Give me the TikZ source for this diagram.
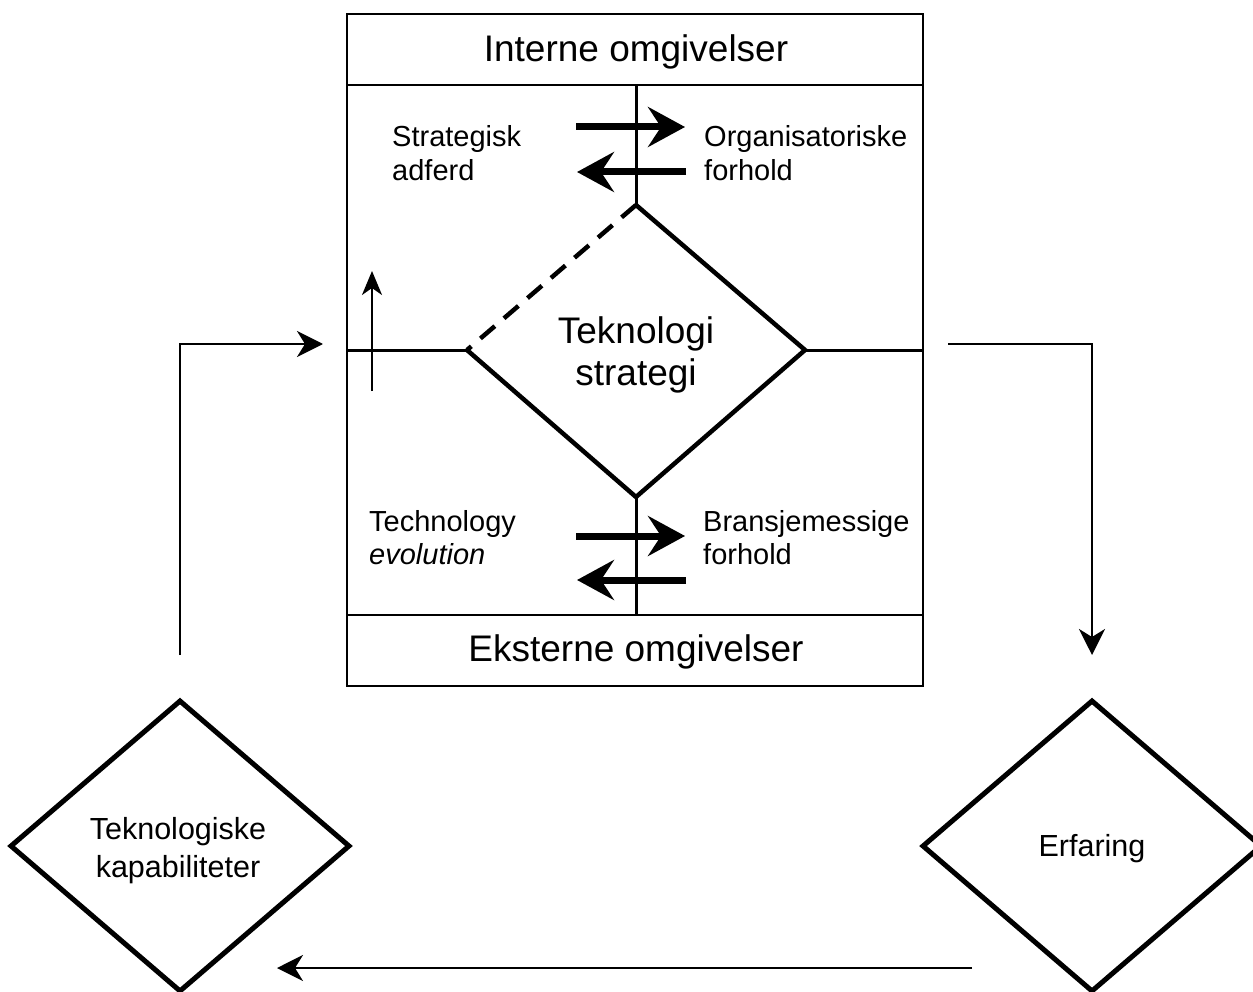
\documentclass[tikz,border=0pt]{standalone}
\usepackage{fontspec}
\setmainfont{Liberation Sans}
\usetikzlibrary{arrows.meta,shapes.geometric}
\begin{document}
\begin{tikzpicture}[x=1pt,y=-1pt,
  frame/.style={line width=2pt},
  divider/.style={line width=3pt},
  core/.style={line width=4.5pt, line join=miter},
  coredash/.style={core, dash pattern=on 19pt off 12pt},
  flow/.style={line width=2.4pt, -{Stealth[length=26pt,width=26pt,inset=8pt]}},
  rise/.style={line width=2pt, -{Stealth[length=24pt,width=20pt,inset=7pt]}},
  heavy/.style={line width=7pt, -{Stealth[length=37pt,width=40pt,inset=13pt]}},
  bigtxt/.style={inner sep=0pt, anchor=base, font=\fontsize{37}{44}\selectfont},
  lbl/.style={inner sep=0pt, anchor=base west, font=\fontsize{29}{34}\selectfont},
  choice/.style={draw, shape=diamond, line width=5pt, inner sep=0pt,
    aspect=1.164, minimum width=340pt, minimum height=292pt},
  choicetxt/.style={inner sep=0pt, align=center, font=\fontsize{30.5}{38}\selectfont}
]
\useasboundingbox[fill=white] (0,0) rectangle (1253,992);

% outer frame with header and footer bands
\draw[frame] (347,14) rectangle (923,686);
\draw[line width=2.5pt] (347,85) -- (923,85);
\draw[line width=2.5pt] (347,615) -- (923,615);
\node[bigtxt] (intern) at (636,62) {Interne omgivelser};
\node[bigtxt] (extern) at (636,661) {Eksterne omgivelser};

% central diamond corners
\coordinate (tsN) at (636,205);
\coordinate (tsE) at (805,350);
\coordinate (tsS) at (636,497);
\coordinate (tsW) at (467,350);
\coordinate (hdrMid) at (636,85);
\coordinate (ftrMid) at (636,615);
\coordinate (frameW) at (347,350);
\coordinate (frameE) at (923,350);

% dividing lines inside the frame
\draw[divider] (hdrMid) -- (tsN);
\draw[divider] (tsS) -- (ftrMid);
\draw[divider] (frameW) -- (tsW);
\draw[divider] (tsE) -- (frameE);

% the diamond itself, upper-left edge dashed
\draw[core] (tsW) -- (tsS) -- (tsE) -- (tsN);
\draw[coredash] (tsN) -- (tsW);
\node[bigtxt] (ts1) at (636,343) {Teknologi};
\node[bigtxt] (ts2) at (636,385) {strategi};

% quadrant labels
\node[lbl] (sa1) at (392,147) {Strategisk};
\node[lbl] (sa2) at (392,181) {adferd};
\node[lbl] (of1) at (704,147) {Organisatoriske};
\node[lbl] (of2) at (704,181) {forhold};
\node[lbl] (te1) at (369,531) {Technology};
\node[lbl] (te2) at (369,564) {\itshape evolution};
\node[lbl] (bf1) at (703,531) {Bransjemessige};
\node[lbl] (bf2) at (703,564) {forhold};

% exchange arrows
\coordinate (ua1) at (576,127); \coordinate (ua2) at (685,127);
\coordinate (ub1) at (686,172); \coordinate (ub2) at (577,172);
\coordinate (la1) at (576,536); \coordinate (la2) at (685,536);
\coordinate (lb1) at (686,580); \coordinate (lb2) at (577,580);
\draw[heavy] (ua1) -- (ua2);
\draw[heavy] (ub1) -- (ub2);
\draw[heavy] (la1) -- (la2);
\draw[heavy] (lb1) -- (lb2);

% small upward arrow
\coordinate (upFoot) at (372,391);
\coordinate (upTip) at (372,271);
\draw[rise] (upFoot) -- (upTip);

% outer cycle
\node[choice] (kap) at (180,846) {};
\node[choice] (erf) at (1092,846) {};
\node[choicetxt] (kapTxt) at (178,851) {Teknologiske\\kapabiliteter};
\node[choicetxt] (erfTxt) at (1092,849) {Erfaring};

\coordinate (kapOut) at (180,655);
\coordinate (tsIn) at (323,344);
\coordinate (tsOut) at (948,344);
\coordinate (erfIn) at (1092,655);
\coordinate (erfOut) at (972,968);
\coordinate (kapIn) at (277,968);

\draw[flow] (kapOut) |- (tsIn);
\draw[flow] (tsOut) -| (erfIn);
\draw[flow] (erfOut) -- (kapIn);
\end{tikzpicture}
\end{document}
